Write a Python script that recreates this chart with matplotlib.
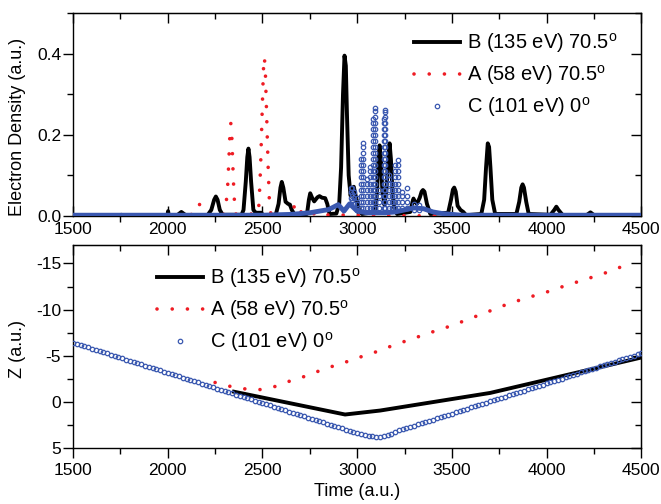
import matplotlib
matplotlib.use("Agg")
import matplotlib.pyplot as plt
from matplotlib.ticker import MultipleLocator
from matplotlib.lines import Line2D

plt.rcParams['font.family'] = ['Liberation Sans', 'DejaVu Sans']
plt.rcParams['axes.unicode_minus'] = False

# ---- top panel: electron density ----
b_top_t = [1500, 1740, 1755, 1770, 1998, 2002, 2006, 2050, 2072, 2095, 2210, 2230, 2245, 2254, 2263, 2275, 2290,
           2390, 2400, 2412, 2420, 2426, 2432, 2440, 2452, 2465, 2495, 2500, 2570, 2585, 2595, 2602, 2610,
           2622, 2635, 2645, 2655, 2670, 2735, 2745, 2752, 2762, 2773, 2790, 2801, 2815, 2831, 2842, 2854,
           2890, 2905, 2915, 2925, 2933, 2940, 2946, 2955, 2965, 2975, 2982, 2992, 3010, 3025, 3095, 3105,
           3112, 3118, 3125, 3133, 3144, 3155, 3163, 3171, 3178, 3186, 3195, 3210, 3280, 3292, 3297, 3305,
           3315, 3330, 3340, 3347, 3355, 3368, 3386, 3480, 3495, 3505, 3512, 3520, 3530, 3545, 3560, 3575,
           3655, 3670, 3680, 3689, 3696, 3703, 3713, 3728, 3840, 3855, 3866, 3873, 3880, 3892, 3905, 4020,
           4040, 4051, 4062, 4085, 4210, 4231, 4250, 4500]
b_top_y = [0.0, 0.0, 0.003, 0.0, 0.0, 0.012, 0.0, 0.002, 0.01, 0.002, 0.002, 0.015, 0.04, 0.048, 0.04, 0.015, 0.003,
           0.003, 0.015, 0.085, 0.145, 0.166, 0.145, 0.085, 0.015, 0.008, 0.008, 0.002, 0.003, 0.03, 0.07, 0.084, 0.07,
           0.035, 0.03, 0.028, 0.015, 0.003, 0.005, 0.04, 0.056, 0.045, 0.036, 0.046, 0.049, 0.045, 0.044, 0.03, 0.005,
           0.006, 0.03, 0.12, 0.3, 0.395, 0.37, 0.25, 0.1, 0.05, 0.068, 0.072, 0.05, 0.015, 0.005, 0.01, 0.06,
           0.14, 0.174, 0.14, 0.06, 0.027, 0.07, 0.14, 0.179, 0.14, 0.06, 0.02, 0.005, 0.01, 0.035, 0.043, 0.035,
           0.03, 0.045, 0.06, 0.064, 0.06, 0.03, 0.005, 0.008, 0.04, 0.065, 0.07, 0.06, 0.025, 0.015, 0.01, 0.002,
           0.005, 0.04, 0.12, 0.179, 0.17, 0.12, 0.04, 0.005, 0.005, 0.035, 0.07, 0.078, 0.07, 0.035, 0.005, 0.003,
           0.015, 0.023, 0.015, 0.002, 0.002, 0.009, 0.002, 0.0]

a_top_t = [1500, 1980, 1993, 2010, 2120, 2134, 2150, 2164, 2180, 2200, 2295, 2305, 2315, 2322, 2328, 2333, 2338,
           2344, 2350, 2358, 2475, 2482, 2490, 2498, 2505, 2510, 2515, 2522, 2530, 2537, 2545, 2650, 2664,
           2680, 2695, 2710, 2765, 2778, 2790, 3440]
a_top_y = [0.0, 0.0, 0.007, 0.0, 0.0, 0.011, 0.028, 0.031, 0.02, 0.003, 0.003, 0.02, 0.06, 0.13, 0.2, 0.228, 0.2,
           0.12, 0.05, 0.005, 0.005, 0.03, 0.12, 0.25, 0.36, 0.391, 0.36, 0.25, 0.12, 0.03, 0.003, 0.003, 0.02,
           0.033, 0.02, 0.003, 0.003, 0.008, 0.003, 0.0]

# C: dense baseline band plus columns of points at the oscillation peaks
c_base_t = [1500, 2500, 2650, 2750, 2850, 2900, 2930, 2960, 3000, 3050, 3100, 3150, 3200, 3250, 3300, 3350,
            3400, 3450, 3550, 4500]
c_base_y = [0.002, 0.002, 0.004, 0.008, 0.016, 0.028, 0.012, 0.03, 0.012, 0.008, 0.008, 0.008, 0.01, 0.015,
            0.02, 0.018, 0.01, 0.006, 0.002, 0.002]
c_col_t = [2965, 2975, 2985, 3000, 3020, 3033, 3050, 3068, 3083, 3092, 3115, 3140, 3148, 3168, 3182, 3202,
           3214, 3236, 3265, 3300, 3325]
c_col_y = [
    [0.03, 0.045, 0.06, 0.07],
    [0.04, 0.055, 0.07],
    [0.03, 0.045, 0.06],
    [0.015, 0.03, 0.045],
    [0.02, 0.035, 0.05, 0.065, 0.08, 0.095, 0.11, 0.125, 0.14],
    [0.02, 0.035, 0.05, 0.065, 0.08, 0.095, 0.11, 0.125, 0.14, 0.155, 0.17, 0.18],
    [0.02, 0.035, 0.05, 0.065, 0.08, 0.09],
    [0.02, 0.035, 0.05, 0.065, 0.08, 0.095, 0.11, 0.12],
    [0.02, 0.035, 0.05, 0.065, 0.08, 0.095, 0.11, 0.125, 0.14, 0.155, 0.17, 0.185, 0.2, 0.215, 0.23, 0.24],
    [0.02, 0.035, 0.05, 0.065, 0.08, 0.095, 0.11, 0.125, 0.14, 0.155, 0.17, 0.185, 0.2, 0.215, 0.23, 0.245,
     0.258, 0.265],
    [0.02, 0.035, 0.05, 0.065],
    [0.02, 0.035, 0.05, 0.065, 0.08, 0.095, 0.11, 0.125, 0.14, 0.155, 0.17, 0.185, 0.2, 0.215, 0.23, 0.24],
    [0.02, 0.035, 0.05, 0.065, 0.08, 0.095, 0.11, 0.125, 0.14, 0.155, 0.17, 0.185, 0.2, 0.215, 0.23, 0.245,
     0.255, 0.26],
    [0.02, 0.035, 0.05, 0.065, 0.08, 0.09, 0.1],
    [0.02, 0.035, 0.05, 0.065, 0.08],
    [0.02, 0.035, 0.05, 0.065, 0.08, 0.095, 0.11, 0.125],
    [0.02, 0.035, 0.05, 0.065, 0.08, 0.095, 0.11, 0.125, 0.138],
    [0.02, 0.035, 0.05, 0.06],
    [0.02, 0.035, 0.05, 0.068],
    [0.015, 0.03],
    [0.015, 0.027],
]

# ---- bottom panel: Z position ----
b_bot_t = [2350, 2936, 3121, 3702, 4500]
b_bot_z = [-1.1, 1.37, 0.94, -0.97, -4.81]

a_bot_t = [2250, 2330, 2410, 2490, 2560, 2630, 2700, 2770, 2840, 2910, 3000, 3090, 3200, 3300, 3400, 3500,
           3600, 3700, 3800, 3900, 4000, 4100, 4200, 4300, 4440]
a_bot_z = [-2.1, -1.68, -1.4, -1.33, -1.62, -2.16, -2.59, -3.13, -3.67, -4.1, -4.75, -5.35, -6.2, -6.9, -7.6,
           -8.27, -9.06, -9.85, -10.65, -11.3, -11.9, -12.6, -13.25, -13.9, -15.0]

c_bot_t = list(range(1500, 4501, 20))
c_bot_z = [-6.43, -6.30, -6.17, -6.04, -5.91, -5.77, -5.64, -5.51, -5.38, -5.25,
           -5.12, -4.99, -4.86, -4.72, -4.59, -4.46, -4.33, -4.20, -4.07, -3.94,
           -3.81, -3.67, -3.54, -3.41, -3.28, -3.15, -3.02, -2.89, -2.76, -2.63,
           -2.49, -2.36, -2.23, -2.10, -1.97, -1.84, -1.71, -1.58, -1.44, -1.31,
           -1.18, -1.05, -0.92, -0.79, -0.66, -0.53, -0.39, -0.26, -0.13, 0.00,
           0.13, 0.26, 0.39, 0.52, 0.66, 0.79, 0.92, 1.05, 1.18, 1.31,
           1.44, 1.57, 1.71, 1.84, 1.97, 2.10, 2.23, 2.36, 2.49, 2.62,
           2.75, 2.88, 3.00, 3.12, 3.24, 3.36, 3.47, 3.57, 3.66, 3.73,
           3.77, 3.78, 3.73, 3.60, 3.43, 3.26, 3.10, 2.97, 2.84, 2.71,
           2.58, 2.45, 2.32, 2.19, 2.05, 1.92, 1.79, 1.66, 1.53, 1.40,
           1.27, 1.14, 1.01, 0.88, 0.74, 0.61, 0.48, 0.35, 0.22, 0.09,
           -0.04, -0.17, -0.30, -0.43, -0.57, -0.70, -0.83, -0.96, -1.09, -1.22,
           -1.35, -1.48, -1.61, -1.74, -1.88, -2.01, -2.14, -2.27, -2.40, -2.53,
           -2.66, -2.79, -2.92, -3.05, -3.19, -3.32, -3.45, -3.58, -3.71, -3.84,
           -3.97, -4.10, -4.23, -4.36, -4.50, -4.63, -4.76, -4.89, -5.02, -5.15,
           -5.28]

labels = ['B (135 eV) 70.5$^\\mathregular{o}$', 'A (58 eV) 70.5$^\\mathregular{o}$',
          'C (101 eV) 0$^\\mathregular{o}$']

black = 'black'
red = '#ee1c24'
blue = '#3a58b0'
dots = (0, (0.01, 4.2))

fig = plt.figure(figsize=(6.61, 5.04), dpi=100)
ax1 = fig.add_axes([0.1104, 0.5714, 0.860, 0.4028])
ax2 = fig.add_axes([0.1104, 0.1111, 0.860, 0.4028])

# top
ax1.plot(b_top_t, b_top_y, color=black, lw=2.8, zorder=2)
ax1.plot(a_top_t, a_top_y, color=red, lw=2.6, ls=dots, dash_capstyle='round', zorder=3)
ax1.plot(c_base_t, c_base_y, color=blue, lw=3.5, zorder=4)
for t, ys in zip(c_col_t, c_col_y):
    ax1.plot([t] * len(ys), ys, ls='none', marker='o', ms=3.2, mew=0.9, mfc='none', mec=blue, zorder=4)
ax1.set_xlim(1500, 4500)
ax1.set_ylim(0, 0.5)
ax1.set_ylabel('Electron Density (a.u.)', fontsize=13)
ax1.yaxis.set_label_coords(-0.083, 0.44)

# bottom
ax2.plot(b_bot_t, b_bot_z, color=black, lw=2.8, zorder=2)
ax2.plot(a_bot_t, a_bot_z, color=red, lw=2.6, ls=dots, dash_capstyle='round', zorder=3)
ax2.plot(c_bot_t, c_bot_z, ls='none', marker='o', ms=3.2, mew=0.9, mfc='none', mec=blue, zorder=4)
ax2.set_xlim(1500, 4500)
ax2.set_ylim(5, -17)
ax2.set_ylabel('Z (a.u.)', fontsize=13)
ax2.yaxis.set_label_coords(-0.083, 0.49)
ax2.set_xlabel('Time (a.u.)', fontsize=13)
ax2.xaxis.set_label_coords(0.5, -0.172)

for ax, ymaj, ymin in [(ax1, 0.2, 0.1), (ax2, 5, 2.5)]:
    ax.xaxis.set_major_locator(MultipleLocator(500))
    ax.xaxis.set_minor_locator(MultipleLocator(250))
    ax.yaxis.set_major_locator(MultipleLocator(ymaj))
    ax.yaxis.set_minor_locator(MultipleLocator(ymin))
    ax.tick_params(which='both', labelsize=12.5, width=1)
    ax.tick_params(which='major', length=7)
    ax.tick_params(which='minor', length=4)
    ax.tick_params(axis='y', direction='out', pad=1.5)
    for s in ax.spines.values():
        s.set_linewidth(1)
    top = ax.secondary_xaxis('top')
    top.xaxis.set_major_locator(MultipleLocator(500))
    top.xaxis.set_minor_locator(MultipleLocator(250))
    top.tick_params(which='both', direction='in', labeltop=False, width=1)
    top.tick_params(which='major', length=7)
    top.tick_params(which='minor', length=4)
    right = ax.secondary_yaxis('right')
    right.yaxis.set_major_locator(MultipleLocator(ymaj))
    right.yaxis.set_minor_locator(MultipleLocator(ymin))
    right.tick_params(which='both', direction='in', labelright=False, width=1)
    right.tick_params(which='major', length=7)
    right.tick_params(which='minor', length=4)

ax1.tick_params(axis='x', direction='in', pad=4)
ax2.tick_params(axis='x', direction='out', pad=4)
ax1.set_yticks([0.0, 0.2, 0.4])
ax1.set_yticklabels(['0.0', '0.2', '0.4'])

handles = [Line2D([], [], color=black, lw=2.8),
           Line2D([], [], color=red, lw=2.6, ls=dots, dash_capstyle='round'),
           Line2D([], [], ls='none', marker='o', ms=3.2, mew=0.9, mfc='none', mec=blue)]
for ax, pos in [(ax1, (0.60, 0.91)), (ax2, (0.147, 0.895))]:
    ax.legend(handles, labels, loc='upper left', bbox_to_anchor=pos, frameon=False, fontsize=14.5,
              borderpad=0, borderaxespad=0, handlelength=2.3, handletextpad=0.35, labelspacing=0.4,
              numpoints=1)

fig.savefig('out.png', dpi=100)
